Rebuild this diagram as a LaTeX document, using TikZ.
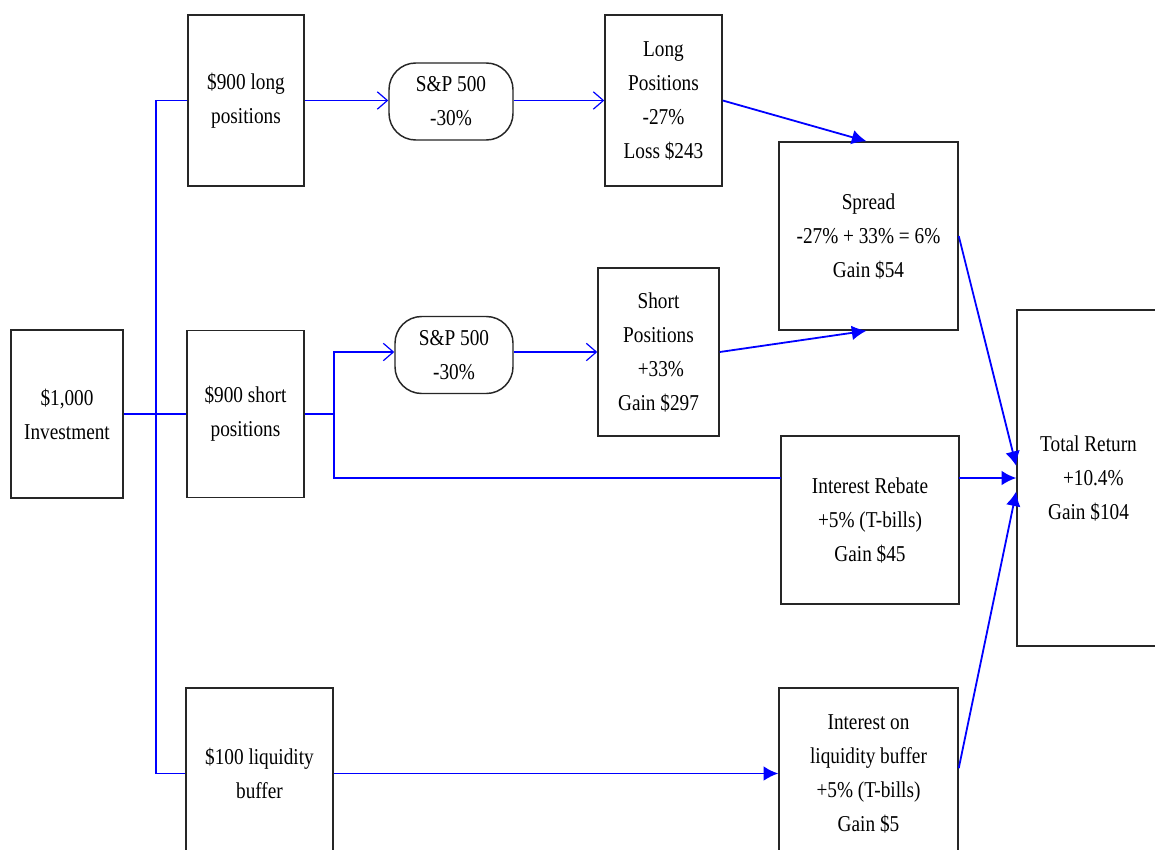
\documentclass[tikz,border=0pt]{standalone}
\usepackage{fontspec}
\setmainfont[FakeStretch=0.85]{Liberation Serif}
\usetikzlibrary{arrows.meta,calc}
\begin{document}
\begin{tikzpicture}[x=0.75pt,y=-0.75pt,
  box/.style 2 args={draw=black!85, line width=1.1pt, fill=white, inner sep=0pt,
    minimum width=#1*0.75pt, minimum height=#2*0.75pt, align=center,
    font=\fontsize{17}{25.5}\selectfont},
  rbox/.style 2 args={box={#1}{#2}, rounded corners=20pt},
  conn/.style={draw=blue, line width=1.35pt},
  openarrow/.style={conn, -{Straight Barb[length=7.5pt, width=13pt, line width=0.9pt]}},
  farrow/.style={conn, -{Latex[length=11pt, width=11pt]}}]
\clip (0,0) rectangle (1155,849);
\fill[white] (0,0) rectangle (1155,849);

\node[box={112}{168}] (inv) at (67,414) {\$1,000\\Investment};
\node[box={116}{171}] (long900) at (246,100.5) {\$900 long\\positions};
\node[box={117}{167}] (short900) at (245.5,414) {\$900 short\\positions};
\node[box={147}{171}] (liq100) at (259.5,773.5) {\$100 liquidity\\buffer};
\node[rbox={124}{77}] (sp1) at (451,101.5) {S\&P 500\\-30\%};
\node[rbox={118}{77}] (sp2) at (454,355) {S\&P 500\\-30\%};
\node[box={117}{171}] (longpos) at (663.5,100.5) {Long\\Positions\\-27\%\\Loss \$243};
\node[box={121}{168}] (shortpos) at (658.5,352) {Short\\Positions\\\ +33\%\\Gain \$297};
\node[box={179}{188}] (spread) at (868.5,236) {Spread\\-27\% + 33\% = 6\%\\Gain \$54};
\node[box={178}{168}] (rebate) at (870,520) {Interest Rebate\\+5\% (T-bills)\\Gain \$45};
\node[box={179}{171}] (liqint) at (868.5,773.5) {Interest on\\liquidity buffer\\+5\% (T-bills)\\Gain \$5};
\node[box={143}{336}] (total) at (1088.5,478) {Total Return\\\ \ +10.4\%\\Gain \$104};

\coordinate (trunk) at (156,414);
\coordinate (br) at (334,414);
\coordinate (rin) at (781,478);
\coordinate (rout) at (959,478);

\draw[conn] (inv.east) -- (short900.west);
\draw[conn] (long900.west) -| (trunk) |- (liq100.west);
\draw[openarrow] (long900.east) -- (sp1.west |- long900.east);
\draw[openarrow] (sp1.east |- longpos.west) -- (longpos.west);
\draw[conn] (short900.east) -- (br);
\draw[openarrow] (br) |- (sp2.west |- shortpos.west);
\draw[openarrow] (sp2.east |- shortpos.west) -- (shortpos.west);
\draw[conn] (br) |- (rin);
\draw[farrow] (longpos.east) -- ([xshift=-1.5pt]spread.north);
\draw[farrow] (shortpos.east) -- ([xshift=-1.5pt]spread.south);
\draw[farrow] (liq100.east) -- (liqint.west);
\draw[farrow] (spread.east) -- ([yshift=9pt]total.west);
\draw[farrow] (rout) -- (total.west);
\draw[farrow] ([yshift=4pt]liqint.east) -- ([yshift=-10pt]total.west);
\end{tikzpicture}
\end{document}
